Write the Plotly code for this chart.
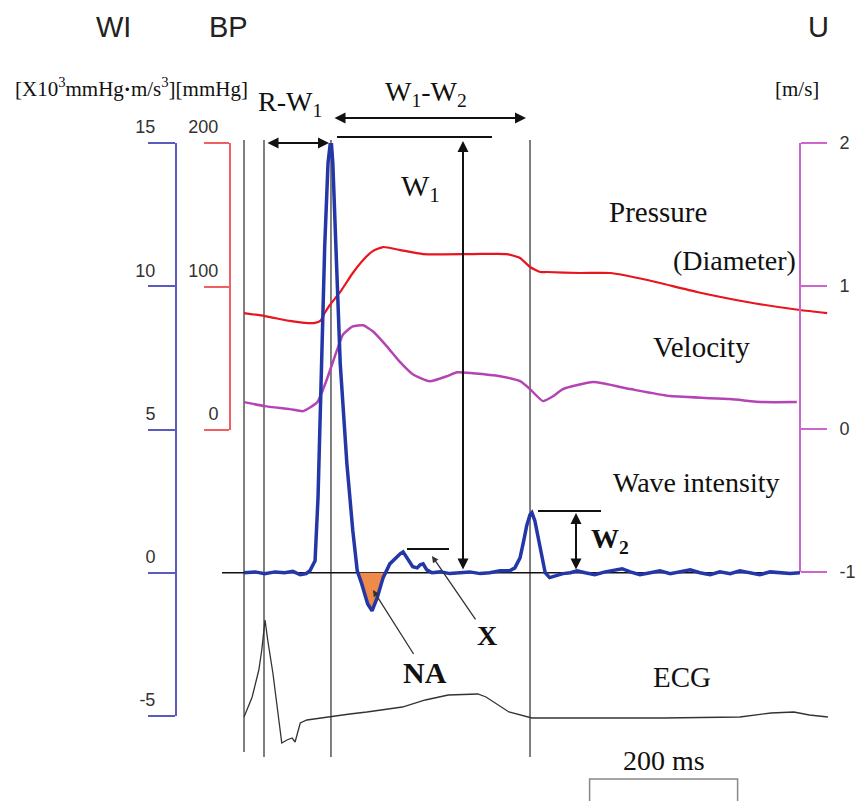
import numpy as np
import plotly.graph_objects as go

# ---------------- data (time in ms, R wave = 0) ----------------
wi_t = [-27, -12, 1, 15, 28, 39, 49, 57, 62, 69, 73, 78, 82, 86.5, 90.5, 93, 97, 103, 112, 120,
        126, 132, 140, 146, 153, 161, 170, 177, 184, 188, 195, 201, 207, 211, 215, 220, 227, 238, 251, 265,
        278, 292, 305, 319, 332, 339, 346, 351, 355, 359.5, 362, 366, 370, 376, 380, 386, 395, 404, 414, 423,
        434, 447, 461, 474, 484, 495, 508, 522, 535, 549, 562, 576, 589, 603, 616, 630, 643, 657, 670, 684,
        697, 711, 724]
wi_val = [0, 0.03, -0.03, 0.03, 0, 0.05, -0.07, -0.03, 0.07, 0.42, 2.62, 7.31, 11.36, 14.3, 15.2, 14.3, 11.36, 7.31, 3.81, 1.47,
          0.07, -0.38, -1.08, -1.33, -0.87, -0.17, 0.31, 0.49, 0.66, 0.73, 0.42, 0.21, 0.17, 0.28, 0.31, 0.10, 0, 0.03, -0.03, 0,
          0.03, -0.03, 0, 0.07, 0.07, 0.17, 0.52, 1.12, 1.64, 2.03, 2.10, 1.82, 1.29, 0.56, 0, -0.17, -0.10, -0.03, 0, 0.07,
          0, -0.07, 0.03, 0.10, 0.14, 0.03, -0.07, 0, 0.07, -0.03, 0.03, 0.10, 0, -0.07, 0.03, -0.03, 0.07, 0, -0.07, 0.03,
          0, -0.03, 0]

bp_t = [-27, 1, 35, 55, 69, 76, 82, 89, 103, 120, 134, 147, 161, 184, 215, 282, 328, 346, 359.5, 373,
        382, 427, 468, 518, 585, 653, 724, 761]
bp_val = [81.5, 79.4, 76.0, 74.6, 74.6, 76.0, 81.5, 87.1, 96.2, 109.4, 118.5, 124.7, 127.5, 125.4, 122.6, 122.6, 122.6, 119.9, 113.6, 110.1,
          110.1, 109.4, 109.4, 104.5, 96.2, 89.2, 83.6, 81.5]

u_t = [-27, 1, 35, 53, 72, 85, 99, 107, 120, 134, 147, 166, 184, 201, 224, 247, 261, 282, 319, 346,
       359.5, 377, 391, 404, 445, 495, 549, 630, 674, 720]
u_val = [0.188, 0.160, 0.139, 0.125, 0.188, 0.348, 0.557, 0.662, 0.718, 0.725, 0.683, 0.578, 0.467, 0.383, 0.334, 0.369, 0.397, 0.390, 0.369, 0.334,
         0.279, 0.195, 0.230, 0.279, 0.328, 0.279, 0.230, 0.209, 0.188, 0.188]

ecg_t = [-27, -16, -7, -3, 1.4, 5, 12, 19, 24, 31, 38, 42, 49, 58, 76, 116, 139, 187, 218, 249,
         289, 300, 331, 362, 435, 539, 643, 685, 716, 737, 762]
ecg_val = [0.01, 0.21, 0.48, 0.68, 0.98, 0.78, 0.45, 0.05, -0.25, -0.22, -0.20, -0.24, -0.05, -0.02, 0, 0.04, 0.06, 0.11, 0.18, 0.23,
           0.24, 0.21, 0.06, 0, 0, 0, 0.01, 0.05, 0.06, 0.03, 0.01]

event_times = [-27, 0, 90.5, 359.5]      # vertical marker lines (ms)
wi_ticks = [-5, 0, 5, 10, 15]
bp_ticks = [0, 100, 200]
u_ticks = [-1, 0, 1, 2]
scale_bar_ms = 200

# ---------------- layout helpers ----------------
W, H = 856, 801
PX_PER_MS = 0.74
T0_PX = 264


def X(px):
    return (px - T0_PX) / PX_PER_MS


def P(py):
    return (H - py) / H


SERIF = "Liberation Serif"
SANS = "Liberation Sans"
BLUE_AX, RED_AX, MAG_AX = "#5b5bbf", "#f06060", "#cc66cc"

fig = go.Figure()

# ECG (hidden axis y)
fig.add_trace(go.Scatter(x=ecg_t, y=ecg_val, mode="lines", yaxis="y",
                         line=dict(color="#333333", width=1.3), hoverinfo="skip"))
# Pressure (y2)
fig.add_trace(go.Scatter(x=bp_t, y=bp_val, mode="lines", yaxis="y2",
                         line=dict(color="#e8141e", width=2.2, shape="spline", smoothing=0.5), hoverinfo="skip"))
# Velocity (y3)
fig.add_trace(go.Scatter(x=u_t, y=u_val, mode="lines", yaxis="y3",
                         line=dict(color="#b444b4", width=2.5, shape="spline", smoothing=0.5), hoverinfo="skip"))

# NA area (negative WI after W1)
t = np.array(wi_t, dtype=float)
v = np.array(wi_val, dtype=float)
idx = np.where((t > 110) & (t < 175) & (v < 0))[0]
i0, i1 = idx[0], idx[-1]
ta = t[i0 - 1] + (0 - v[i0 - 1]) * (t[i0] - t[i0 - 1]) / (v[i0] - v[i0 - 1])
tb = t[i1] + (0 - v[i1]) * (t[i1 + 1] - t[i1]) / (v[i1 + 1] - v[i1])
na_t = [ta] + list(t[i0:i1 + 1]) + [tb]
na_v = [0] + list(v[i0:i1 + 1]) + [0]
fig.add_trace(go.Scatter(x=na_t, y=na_v, mode="lines", yaxis="y4", fill="toself",
                         fillcolor="#f08a4b", line=dict(width=0), hoverinfo="skip"))
# Wave intensity (y4)
fig.add_trace(go.Scatter(x=wi_t, y=wi_val, mode="lines", yaxis="y4",
                         line=dict(color="#2337a8", width=3.5), hoverinfo="skip"))


def scale_axis(color, domain, rng, ticks, pos, side, ticklen, shift, standoff):
    return dict(domain=domain, range=rng, anchor="free", position=pos, side=side,
                showline=True, linecolor=color, linewidth=2,
                ticks="outside", ticklen=ticklen, tickwidth=2, tickcolor=color,
                tickmode="array", tickvals=ticks, ticktext=[str(k) for k in ticks],
                tickfont=dict(family=SANS, size=18, color="#333333"),
                ticklabelshift=shift, ticklabelstandoff=standoff,
                showgrid=False, zeroline=False, fixedrange=True, automargin=False)


shapes = []
# vertical event lines
for et, bot in zip(event_times, [752, 757, 757, 757]):
    shapes.append(dict(type="line", xref="x", yref="paper", x0=et, x1=et, y0=P(bot), y1=P(140),
                       line=dict(color="#555555", width=1.5), layer="below"))
# WI zero line
shapes.append(dict(type="line", xref="x", yref="y4", x0=X(222), x1=X(800), y0=0, y1=0,
                   line=dict(color="#111111", width=1.5), layer="below"))
# measurement lines
for (pa, pb, py) in [(337, 492, 137), (407, 449, 549), (538, 601, 511)]:
    shapes.append(dict(type="line", xref="x", yref="paper", x0=X(pa), x1=X(pb), y0=P(py), y1=P(py),
                       line=dict(color="#111111", width=2)))
# 200 ms scale bar
bar0 = 440
bar1 = bar0 + scale_bar_ms
shapes.append(dict(type="path", xref="x", yref="paper",
                   path=f"M {bar0},{P(801)} L {bar0},{P(779)} L {bar1},{P(779)} L {bar1},{P(801)}",
                   line=dict(color="#888888", width=1.5)))

annotations = []


def txt(s, px, py, size=28, family=SERIF, bold=False, color="#111111"):
    if bold:
        s = f"<b>{s}</b>"
    annotations.append(dict(text=s, x=X(px), y=P(py), xref="x", yref="paper", showarrow=False,
                            xanchor="center", yanchor="middle",
                            font=dict(family=family, size=size, color=color)))


def arrow(tip_px, tip_py, tail_px, tail_py, both=False, width=2, head=2, size=1.0, color="#111111"):
    annotations.append(dict(text="", x=X(tip_px), y=P(tip_py), xref="x", yref="paper",
                            ax=tail_px - tip_px, ay=tail_py - tip_py, axref="pixel", ayref="pixel",
                            showarrow=True, arrowhead=head, arrowsize=size, arrowwidth=width,
                            arrowcolor=color, arrowside="end+start" if both else "end",
                            startarrowhead=head, startarrowsize=size, standoff=0, startstandoff=0))


def pointer(s, text_px, text_py, tip_px, tip_py, size=28):
    # bold label with a thin pointer line ending in a small arrow at the feature
    annotations.append(dict(text=f"<b>{s}</b>", x=X(tip_px), y=P(tip_py), xref="x", yref="paper",
                            ax=text_px - tip_px, ay=text_py - tip_py, axref="pixel", ayref="pixel",
                            showarrow=True, arrowhead=2, arrowsize=1.0, arrowwidth=1.3,
                            arrowcolor="#333333", standoff=0,
                            font=dict(family=SERIF, size=size, color="#111111")))


# titles / units
txt("WI", 113, 27, size=29, family=SANS, color="#222222")
txt("BP", 228, 27, size=29, family=SANS, color="#222222")
txt("U", 818, 27, size=29, family=SANS, color="#222222")
txt("[X10<sup>3</sup>mmHg<b>·</b>m/s<sup>3</sup>][mmHg]", 131, 87, size=21)
txt("[m/s]", 797, 89, size=21)

# interval labels
txt("R-W<sub>1</sub>", 290, 104, size=28)
txt("W<sub>1</sub>-W<sub>2</sub>", 426, 94, size=28)
txt("W<sub>1</sub>", 420, 188, size=30)
txt("Pressure", 658, 212, size=29)
txt("(Diameter)", 734, 260, size=28)
txt("Velocity", 701, 347, size=29)
txt("Wave intensity", 696, 483, size=28)
txt("W<sub>2</sub>", 610, 540, size=28, bold=True)
txt("ECG", 682, 677, size=29)
txt(f"{scale_bar_ms} ms", 664, 760, size=28)

# pointers with labels
pointer("X", 487, 636, 432, 556)
pointer("NA", 425, 672, 373, 590, size=30)

# measurement arrows
arrow(329, 143, 266, 143, both=True, size=1.1)         # R-W1
arrow(526, 118, 333, 118, both=True, size=1.1)         # W1-W2
arrow(463, 141, 463, 571, both=True, size=1.1)         # W1 height
arrow(576, 513, 576, 571, both=True, size=1.1)         # W2 height

fig.update_layout(
    width=W, height=H, autosize=False,
    margin=dict(l=0, r=0, t=0, b=0, pad=0, autoexpand=False),
    paper_bgcolor="white", plot_bgcolor="rgba(0,0,0,0)",
    showlegend=False,
    xaxis=dict(domain=[0, 1], range=[X(0), X(W)], visible=False, fixedrange=True, anchor="y", automargin=False),
    yaxis=dict(domain=[0, 1], range=[(718 - H) / 100, 718 / 100], visible=False, fixedrange=True, automargin=False),
    yaxis2=scale_axis(RED_AX, [P(430), P(143)], [0, 200], bp_ticks, 230 / W, "left", 25, -16, -18),
    yaxis3=scale_axis(MAG_AX, [P(572), P(143)], [-1, 2], u_ticks, 800 / W, "right", 26, 0, 9),
    yaxis4=scale_axis(BLUE_AX, [P(716), P(143)], [-5, 15], wi_ticks, 176 / W, "left", 27, -16, -11),
    shapes=shapes,
    annotations=annotations,
)

fig.write_html("out.html", config={"displayModeBar": False},
               post_script="document.body.style.margin='0';document.body.style.overflow='hidden';")
